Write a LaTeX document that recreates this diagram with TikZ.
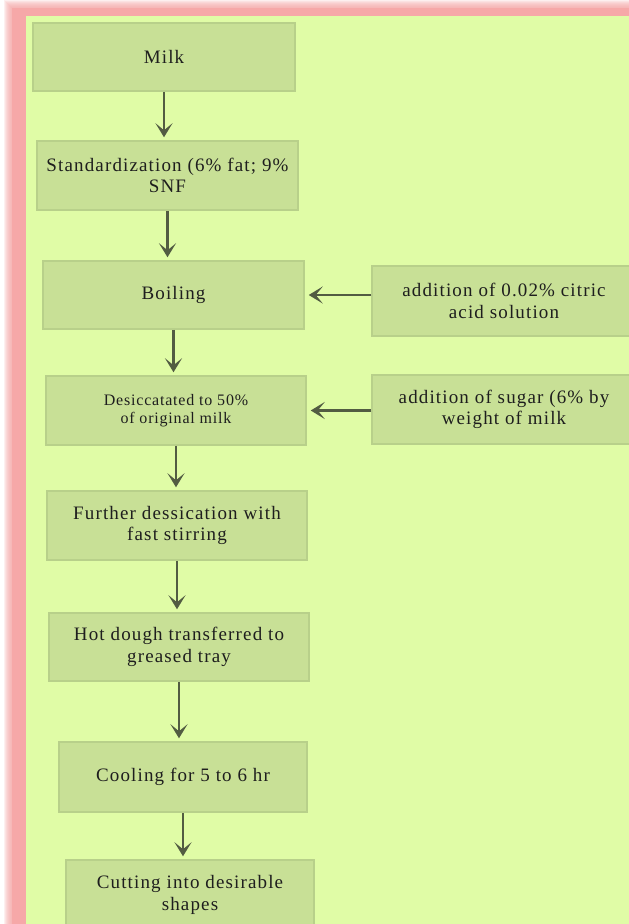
\documentclass[tikz,border=0pt]{standalone}
\usepackage{fontspec}
\setmainfont{Liberation Serif}
\usetikzlibrary{arrows.meta, positioning}
\definecolor{pagegreen}{RGB}{224,252,166}
\definecolor{boxfill}{RGB}{200,224,150}
\definecolor{boxline}{RGB}{184,208,138}
\definecolor{arrowgray}{RGB}{82,92,66}
\definecolor{glowpink}{RGB}{246,168,168}
\definecolor{textdark}{RGB}{30,30,30}

\begin{document}
\begin{tikzpicture}[
  x=1pt, y=-1pt,
  every node/.style={font=\fontsize{19}{21.5}\selectfont\addfontfeature{LetterSpace=6}, text=textdark},
  stepbox/.style={rectangle, draw=boxline, line width=1.5pt, fill=boxfill,
                  minimum width=261pt, minimum height=69pt,
                  align=center, inner sep=3pt},
  sidebox/.style={stepbox, minimum width=264pt, minimum height=70pt},
  smalltext/.style={font=\fontsize{16}{17.5}\selectfont\addfontfeature{LetterSpace=5}},
  flow/.style={-{Stealth[length=14pt, width=17pt, inset=7pt]},
               line width=2.8pt, draw=arrowgray, shorten >=3pt}
]
\useasboundingbox (0,0) rectangle (629,924);
\clip (0,0) rectangle (629,924);
% page with pink glow
\fill[white] (0,0) rectangle (629,924);
\foreach \k in {1,...,8}
  \fill[glowpink, opacity=0.18] (12-\k,8-\k) rectangle (640,940);
\fill[glowpink] (12,8) rectangle (640,940);
\fill[pagegreen] (26,16) rectangle (640,940);

% main column
\node[stepbox, minimum width=262pt, minimum height=68pt] (milk) at (164,57) {Milk};
\node[stepbox]                      (std)     at (167.5,175.5) {Standardization (6\% fat; 9\%\\SNF};
\node[stepbox, minimum height=68pt] (boil)    at (173.5,295)   {Boiling};
\node[stepbox, smalltext, minimum width=260pt] (desic) at (176,410.5) {Desiccatated to 50\%\\of original milk};
\node[stepbox, minimum width=260pt] (further) at (177,525.5) {Further dessication with\\fast stirring};
\node[stepbox, minimum width=260pt, minimum height=68pt] (dough) at (179,647) {Hot dough transferred to\\greased tray};
\node[stepbox, minimum width=248pt, minimum height=70pt] (cool) at (183,777) {Cooling for 5 to 6 hr};
\node[stepbox, minimum width=248pt, minimum height=70pt] (cut)  at (190,895) {Cutting into desirable\\shapes};
% additions on the right
\node[sidebox] (citric) at (504,301)   {addition of 0.02\% citric\\acid solution};
\node[sidebox, minimum height=69pt] (sugar) at (504,409.5) {addition of sugar (6\% by\\weight of milk};

\draw[flow] (milk)    -- (milk |- std.north);
\draw[flow] (std)     -- (std |- boil.north);
\draw[flow] (boil)    -- (boil |- desic.north);
\draw[flow] (desic)   -- (desic |- further.north);
\draw[flow] (further) -- (further |- dough.north);
\draw[flow] (dough)   -- (dough |- cool.north);
\draw[flow] (cool)    -- (cool |- cut.north);
% side feeds
\draw[flow, shorten >=4pt] (citric.west |- boil.east) -- (boil.east);
\draw[flow, shorten >=4pt] (sugar.west |- desic.east) -- (desic.east);
\end{tikzpicture}
\end{document}
